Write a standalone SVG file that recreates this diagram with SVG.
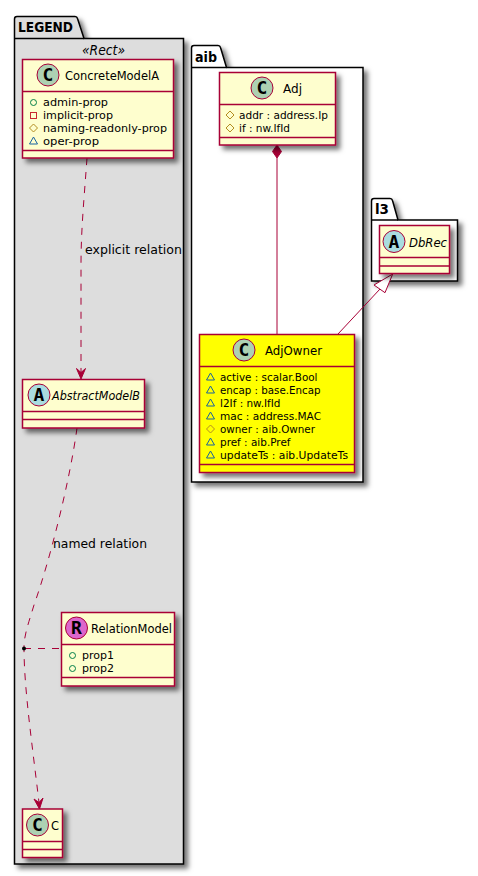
<svg xmlns="http://www.w3.org/2000/svg" width="478" height="876" viewBox="0 0 478 876">
<style>
text{font-family:"DejaVu Sans","Liberation Sans",sans-serif;fill:#000;white-space:pre}
.n{font-size:13px}
.i{font-style:italic}
.a{font-size:10.5px}
.p{font-size:14px;font-weight:bold}
.l{font-size:13px}
.g{font-family:"DejaVu Sans Mono","Liberation Mono",monospace;font-size:18px;font-weight:bold;text-anchor:middle}
.b{fill:#FEFECE;stroke:#A80036;stroke-width:1.5;filter:url(#sh)}
.y{fill:#FFFF00}
.s{stroke:#A80036;stroke-width:1.5;fill:none}
.c{stroke:#A80036;stroke-width:1;fill:#ADD1B2}
.ca{fill:#A9DCDF}
.cr{fill:#DD66CC}
.pk{stroke:#000;stroke-width:1.5;fill:#fff;filter:url(#sh)}
.lg{fill:#DDDDDD}
.e{stroke:#A80036;stroke-width:1;fill:none}
.d{stroke-dasharray:7 7}
.pub{fill:none;stroke:#038048;stroke-width:1}
.pri{fill:none;stroke:#C82930;stroke-width:1}
.pro{fill:none;stroke:#B38D22;stroke-width:1}
.pkg{fill:none;stroke:#1963A0;stroke-width:1}
</style>
<defs>
<filter id="sh" x="-15%" y="-15%" width="140%" height="140%">
<feDropShadow dx="4" dy="4" stdDeviation="2.5" flood-color="#000" flood-opacity="0.55"/>
</filter>
<circle id="ipub" class="pub" r="3"/>
<rect id="ipri" class="pri" x="-3" y="-3" width="6" height="6"/>
<path id="ipro" class="pro" d="M0-4L4 0L0 4L-4 0Z"/>
<path id="ipkg" class="pkg" d="M-4 3L0-4L4 3Z"/>
</defs>

<g id="pkg-LEGEND">
<path class="pk lg" d="M14.5 38.5V19Q14.5 16.5 17 16.5H75Q77 16.5 77.5 18.5L84 38.5H183.5V864H14.5Z"/>
<path d="M14.5 38.5H84" stroke="#000" stroke-width="1.5" fill="none"/>
<text class="p" x="18" y="32" textLength="55" lengthAdjust="spacingAndGlyphs">LEGEND</text>
<text class="n i" x="82" y="55" textLength="43" lengthAdjust="spacingAndGlyphs" style="font-size:14px">«Rect»</text>
</g>
<g id="pkg-aib">
<path class="pk" d="M191.5 67.5V48Q191.5 45.5 194 45.5H218Q220 45.5 220.5 47.5L226.5 67.5H363V482H191.5Z"/>
<path d="M191.5 67.5H226.5" stroke="#000" stroke-width="1.5" fill="none"/>
<text class="p" x="195" y="62" textLength="22" lengthAdjust="spacingAndGlyphs">aib</text>
</g>
<g id="pkg-l3">
<path class="pk" d="M371.5 220V201Q371.5 198.5 374 198.5H390Q392 198.5 392.5 200.5L398 220H457.5V281H371.5Z"/>
<path d="M371.5 220H398" stroke="#000" stroke-width="1.5" fill="none"/>
<text class="p" x="375" y="214" textLength="14" lengthAdjust="spacingAndGlyphs">l3</text>
</g>

<g id="connectors">
<path class="e d" d="M87 158C84 200 81 230 81 265C81 300 81 340 81 377"/>
<path d="M81 379L76.500 368.500L81 372.5L85.500 368.500Z" fill="#A80036" stroke="#A80036"/>
<text class="l" x="85" y="254" textLength="97" lengthAdjust="spacingAndGlyphs">explicit relation</text>
<path class="e d" d="M77 428C70 480 50 560 34 605C28 625 24 635 24 648C24 690 33 750 39.5 807"/>
<path d="M39.5 809L34 799L39 802.5L43 798Z" fill="#A80036" stroke="#A80036"/>
<text class="l" x="53" y="548" textLength="94" lengthAdjust="spacingAndGlyphs">named relation</text>
<path class="e d" d="M24 648.5H61"/>
<circle cx="24" cy="648.5" r="2" fill="#000"/>
<path d="M277 145L281.5 151.5L277 158L272.5 151.5Z" fill="#A80036" stroke="#A80036"/>
<path class="e" d="M277 158V334"/>
<path class="e" d="M338 334L380 289"/>
<path d="M392.7 274L385 292.7L374 285Z" fill="#fff" stroke="#A80036"/>
</g>

<g id="ConcreteModelA">
<rect class="b" x="22.5" y="59.5" width="151" height="98.5"/>
<path class="s" d="M22.5 91.5H173.5M22.5 150.5H173.5"/>
<circle class="c" cx="48" cy="75" r="11"/><text class="g" x="48" y="81">C</text>
<text class="n" x="65" y="80" textLength="94" lengthAdjust="spacingAndGlyphs">ConcreteModelA</text>
<use href="#ipub" x="33.5" y="102.5"/><text class="a" x="43" y="106" textLength="65" lengthAdjust="spacingAndGlyphs">admin-prop</text>
<use href="#ipri" x="33.5" y="115.5"/><text class="a" x="43" y="119" textLength="70" lengthAdjust="spacingAndGlyphs">implicit-prop</text>
<use href="#ipro" x="33.5" y="128"/><text class="a" x="43" y="132" textLength="124" lengthAdjust="spacingAndGlyphs">naming-readonly-prop</text>
<use href="#ipkg" x="33.5" y="141"/><text class="a" x="43" y="145" textLength="56" lengthAdjust="spacingAndGlyphs">oper-prop</text>
</g>

<g id="AbstractModelB">
<rect class="b" x="22.5" y="379.5" width="122" height="48.5"/>
<path class="s" d="M22.5 411.5H144.5M22.5 419.5H144.5"/>
<circle class="c ca" cx="39" cy="395" r="11"/><text class="g" x="39" y="401">A</text>
<text class="n i" x="52" y="400" textLength="88" lengthAdjust="spacingAndGlyphs">AbstractModelB</text>
</g>

<g id="RelationModel">
<rect class="b" x="61.5" y="612.5" width="113" height="73.5"/>
<path class="s" d="M61.5 644.5H174.5M61.5 677.5H174.5"/>
<circle class="c cr" cx="76.5" cy="628" r="11"/><text class="g" x="76.5" y="634">R</text>
<text class="n" x="91" y="633" textLength="81" lengthAdjust="spacingAndGlyphs">RelationModel</text>
<use href="#ipub" x="72.5" y="655.5"/><text class="a" x="82" y="659" textLength="32" lengthAdjust="spacingAndGlyphs">prop1</text>
<use href="#ipub" x="72.5" y="668.5"/><text class="a" x="82" y="672" textLength="32" lengthAdjust="spacingAndGlyphs">prop2</text>
</g>

<g id="C">
<rect class="b" x="22.5" y="809" width="40" height="48.5"/>
<path class="s" d="M22.5 841.5H62.5M22.5 849.5H62.5"/>
<circle class="c" cx="37.5" cy="825" r="11"/><text class="g" x="37.5" y="831">C</text>
<text class="n" x="51" y="830" textLength="8" lengthAdjust="spacingAndGlyphs">C</text>
</g>

<g id="Adj">
<rect class="b" x="219.5" y="72.5" width="116" height="72.5"/>
<path class="s" d="M219.5 104.5H335.5M219.5 137.5H335.5"/>
<circle class="c" cx="262" cy="88" r="11"/><text class="g" x="262" y="94">C</text>
<text class="n" x="283" y="93" textLength="19" lengthAdjust="spacingAndGlyphs">Adj</text>
<use href="#ipro" x="230" y="115"/><text class="a" x="239" y="119" textLength="89" lengthAdjust="spacingAndGlyphs">addr : address.Ip</text>
<use href="#ipro" x="230" y="128"/><text class="a" x="239" y="132" textLength="51" lengthAdjust="spacingAndGlyphs">if : nw.IfId</text>
</g>

<g id="AdjOwner">
<rect class="b y" x="199.5" y="334.5" width="155" height="138"/>
<path class="s" d="M199.5 366.5H354.5M199.5 464.5H354.5"/>
<circle class="c" cx="244" cy="350" r="11"/><text class="g" x="244" y="356">C</text>
<text class="n" x="265" y="355" textLength="57" lengthAdjust="spacingAndGlyphs">AdjOwner</text>
<use href="#ipkg" x="210.5" y="377"/><text class="a" x="220" y="381" textLength="97.5" lengthAdjust="spacingAndGlyphs">active : scalar.Bool</text>
<use href="#ipkg" x="210.5" y="390"/><text class="a" x="220" y="394" textLength="100.5" lengthAdjust="spacingAndGlyphs">encap : base.Encap</text>
<use href="#ipkg" x="210.5" y="403"/><text class="a" x="220" y="407" textLength="60.5" lengthAdjust="spacingAndGlyphs">l2If : nw.IfId</text>
<use href="#ipkg" x="210.5" y="416"/><text class="a" x="220" y="420" textLength="101" lengthAdjust="spacingAndGlyphs">mac : address.MAC</text>
<use href="#ipro" x="210.5" y="429"/><text class="a" x="220" y="433" textLength="95" lengthAdjust="spacingAndGlyphs">owner : aib.Owner</text>
<use href="#ipkg" x="210.5" y="442"/><text class="a" x="220" y="446" textLength="70.5" lengthAdjust="spacingAndGlyphs">pref : aib.Pref</text>
<use href="#ipkg" x="210.5" y="455"/><text class="a" x="220" y="459" textLength="128" lengthAdjust="spacingAndGlyphs">updateTs : aib.UpdateTs</text>
</g>

<g id="DbRec">
<rect class="b" x="379.5" y="225.5" width="70" height="48"/>
<path class="s" d="M379.5 257.5H449.5M379.5 266H449.5"/>
<circle class="c ca" cx="394" cy="241.5" r="11"/><text class="g" x="394" y="247.5">A</text>
<text class="n i" x="409" y="246.5" textLength="38" lengthAdjust="spacingAndGlyphs">DbRec</text>
</g>
</svg>
